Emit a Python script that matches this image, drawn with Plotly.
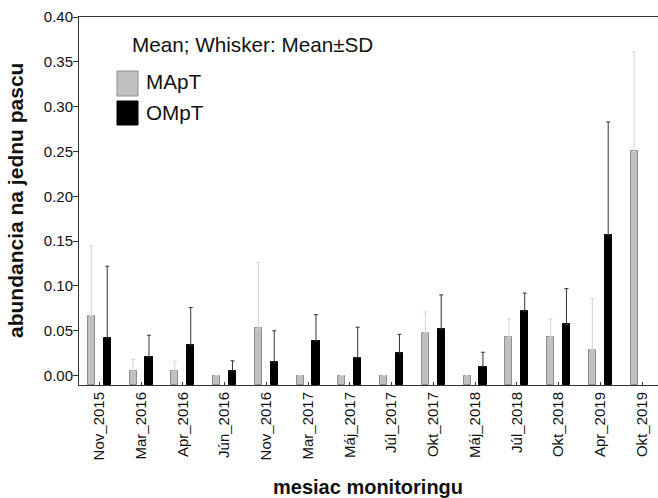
import plotly.graph_objects as go

# Monitoring months and per-trap abundance (mean and standard deviation)
months = ["Nov_2015", "Mar_2016", "Apr_2016", "Jún_2016", "Nov_2016", "Mar_2017",
          "Máj_2017", "Júl_2017", "Okt_2017", "Máj_2018", "Júl_2018", "Okt_2018",
          "Apr_2019", "Okt_2019"]
mapt_mean = [0.067, 0.005, 0.005, 0.0, 0.053, 0.0, 0.0, 0.0, 0.048, 0.0, 0.043, 0.043, 0.029, 0.250]
mapt_sd = [0.078, 0.013, 0.011, None, 0.073, None, None, None, 0.023, None, 0.020, 0.020, 0.057, 0.111]
ompt_mean = [0.042, 0.021, 0.034, 0.005, 0.015, 0.039, 0.020, 0.025, 0.052, 0.010, 0.072, 0.057, 0.157, None]
ompt_sd = [0.080, 0.024, 0.042, 0.0115, 0.035, 0.029, 0.034, 0.021, 0.038, 0.016, 0.020, 0.040, 0.126, None]
y_ticks = [0.00, 0.05, 0.10, 0.15, 0.20, 0.25, 0.30, 0.35, 0.40]

Y_MIN, Y_MAX = -0.0105, 0.40
FONT = "Arial, 'Liberation Sans', sans-serif"

W, H = 658, 498
ML, MR, MT, MB = 79, 0, 17, 113
PW, PH = W - ML - MR, H - MT - MB


def px_x(x):
    return (x - ML) / PW


def px_y(y):
    return (H - MB - y) / PH


def heights(means):
    # bars rise from the bottom of the value axis
    return [None if m is None else m - Y_MIN for m in means]


fig = go.Figure()
fig.add_trace(go.Bar(
    name="MApT", x=months, y=heights(mapt_mean), base=Y_MIN,
    width=0.17, offset=-0.275,
    marker=dict(color="#c0c0c0", line=dict(color="#8f8f8f", width=1)),
    error_y=dict(type="data", symmetric=False, array=mapt_sd,
                 arrayminus=[0] * len(mapt_sd), color="#d4d4d4",
                 thickness=1, width=2),
))
fig.add_trace(go.Bar(
    name="OMpT", x=months, y=heights(ompt_mean), base=Y_MIN,
    width=0.17, offset=0.105,
    marker=dict(color="#000000", line=dict(color="#000000", width=1)),
    error_y=dict(type="data", symmetric=False, array=ompt_sd,
                 arrayminus=[0] * len(ompt_sd), color="#333333",
                 thickness=1, width=2),
))

# Legend block drawn by hand
shapes = [
    dict(type="rect", xref="paper", yref="paper",
         x0=px_x(117), x1=px_x(138), y0=px_y(96), y1=px_y(71),
         fillcolor="#c0c0c0", line=dict(color="#8f8f8f", width=1)),
    dict(type="rect", xref="paper", yref="paper",
         x0=px_x(117), x1=px_x(138), y0=px_y(125), y1=px_y(101),
         fillcolor="#000000", line=dict(color="#000000", width=1)),
]
annotations = [
    dict(text="Mean; Whisker: Mean±SD", xref="paper", yref="paper",
         x=px_x(130), y=px_y(44), xanchor="left", yanchor="middle",
         showarrow=False, font=dict(family=FONT, size=20.7, color="#111")),
    dict(text="MApT", xref="paper", yref="paper",
         x=px_x(144), y=px_y(82), xanchor="left", yanchor="middle",
         showarrow=False, font=dict(family=FONT, size=20.7, color="#111")),
    dict(text="OMpT", xref="paper", yref="paper",
         x=px_x(144), y=px_y(112), xanchor="left", yanchor="middle",
         showarrow=False, font=dict(family=FONT, size=20.7, color="#111")),
    dict(text="<b>mesiac monitoringu</b>", xref="paper", yref="paper",
         x=px_x(368), y=px_y(487), xanchor="center", yanchor="middle",
         showarrow=False, font=dict(family=FONT, size=20, color="#111")),
    dict(text="<b>abundancia na jednu pascu</b>", xref="paper", yref="paper",
         x=px_x(15), y=px_y(201), xanchor="center", yanchor="middle",
         textangle=-90, showarrow=False,
         font=dict(family=FONT, size=21, color="#111")),
]

fig.update_layout(
    width=W, height=H,
    margin=dict(l=ML, r=MR, t=MT, b=MB, pad=0),
    paper_bgcolor="white", plot_bgcolor="white",
    showlegend=False, bargap=0,
    font=dict(family=FONT, size=15, color="#111"),
    shapes=shapes, annotations=annotations,
    xaxis=dict(
        type="category", range=[-0.486, 13.383],
        showline=True, linecolor="#333", linewidth=1, mirror=True,
        ticks="inside", ticklen=3, tickcolor="#333",
        tickangle=-90, showgrid=False, zeroline=False,
        tickfont=dict(family=FONT, size=15, color="#111"),
    ),
    yaxis=dict(
        range=[Y_MIN, Y_MAX], tickvals=y_ticks, tickformat=".2f",
        showline=True, linecolor="#333", linewidth=1,
        ticks="outside", ticklen=5, tickcolor="#333",
        ticklabelstandoff=-3,
        showgrid=False, zeroline=False,
        tickfont=dict(family=FONT, size=15, color="#111"),
    ),
)

fig.write_html("out.html")
